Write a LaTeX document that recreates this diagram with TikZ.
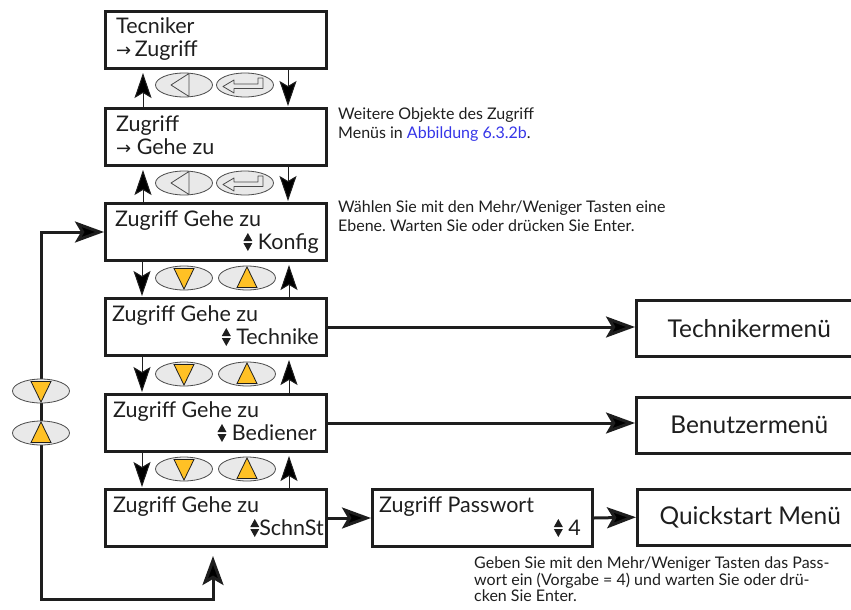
\documentclass[tikz,border=0pt]{standalone}
\usepackage{fontspec}
\setmainfont{Lato}
\newfontfamily\arrowfont{DejaVu Sans}
\usepackage{tikz}
\usetikzlibrary{arrows.meta,positioning,shapes.geometric}
\frenchspacing
\definecolor{inkdk}{HTML}{1E1E1E}
\definecolor{keyfill}{HTML}{E9E9E9}
\definecolor{keyedge}{HTML}{4A4A4A}
\definecolor{keyorange}{HTML}{FFC125}
\definecolor{linkblue}{HTML}{3535E8}
\newcommand{\lcdfont}{\fontsize{21.5}{23}\selectfont}
\newcommand{\menufont}{\fontsize{24.5}{28}\selectfont}
\newcommand{\notefont}{\fontsize{16}{18.5}\selectfont}
\newcommand{\toarr}{{\arrowfont\fontsize{18}{18}\selectfont →}}
\newcommand{\updn}{\tikz[x=1pt,y=1pt,baseline=0pt]{%   % more/less symbol
  \fill[inkdk] (0,8) -- (9,8) -- (4.5,16) -- cycle;
  \fill[inkdk] (0,6) -- (9,6) -- (4.5,-2) -- cycle;}}
\tikzset{
  lcd/.style      = {draw=inkdk, line width=3pt, anchor=north west,
                     minimum width=221pt, minimum height=57pt, inner sep=0pt},
  menubox/.style  = {draw=inkdk, line width=2.5pt, anchor=north west,
                     minimum width=226pt, minimum height=56pt, inner sep=0pt,
                     font=\menufont, text=inkdk},
  lcdtxt/.style   = {anchor=base west, inner sep=0pt, font=\lcdfont, text=inkdk},
  lcdtxtr/.style  = {lcdtxt, anchor=base east},
  note/.style     = {anchor=north west, align=left, inner sep=0pt,
                     font=\notefont, text=inkdk},
  key/.style      = {ellipse, draw=keyedge, fill=keyfill, line width=0.8pt,
                     minimum width=57pt, minimum height=24pt, inner sep=0pt},
  keysym/.style   = {draw=keyedge, line width=0.8pt, line join=round},
  keytri/.style   = {draw=inkdk, fill=keyorange, line width=0.8pt},
  thinarr/.style  = {draw=inkdk, line width=1pt,
                     -{Stealth[length=25pt, width=17pt, inset=5pt]}},
  thickarr/.style = {draw=inkdk, line width=3pt,
                     -{Stealth[length=29pt, width=21pt, inset=6pt]}},
}
\newcommand{\keyback}[1]{%            % #1 = key node
  \draw[keysym] ([shift={(-13,0)}]#1.center) -- ([shift={(5,-11.5)}]#1.center)
    -- ([shift={(5,11.5)}]#1.center) -- cycle;}
\newcommand{\keyenter}[1]{%           % #1 = key node
  \draw[keysym] ([shift={(-22,1.5)}]#1.center) -- ++(11,-6.5) -- ++(0,4)
    -- ++(24,0) -- ++(0,-6) -- ++(5,0) -- ++(0,10.5) -- ++(-29,0)
    -- ++(0,4.5) -- cycle;}
\newcommand{\keydn}[1]{%              % #1 = key node
  \draw[keytri] ([shift={(-10,-9.5)}]#1.center) -- ++(20,0) -- ++(-10,20.5) -- cycle;}
\newcommand{\keyup}[1]{%              % #1 = key node
  \draw[keytri] ([shift={(-10,9.5)}]#1.center) -- ++(20,0) -- ++(-10,-20.5) -- cycle;}

\begin{document}
\begin{tikzpicture}[x=1pt,y=-1pt]
  \useasboundingbox (0,0) rectangle (851,610);

  % display boxes
  \node[lcd] (tec)  at (104,10)  {};
  \node[lcd] (zug)  at (104,107) {};
  \node[lcd] (konf) at (104,202) {};
  \node[lcd] (tech) at (104,297) {};
  \node[lcd] (bed)  at (104,393) {};
  \node[lcd] (schn) at (104,488) {};
  \node[lcd, minimum width=220pt] (pass) at (371,488) {};

  \node[lcdtxt]  (tec1)  at ([shift={(12,24)}]tec.north west)  {Tecniker};
  \node[lcdtxt]  (tec2)  at ([shift={(12,47)}]tec.north west)  {\toarr\,Zugriff};
  \node[lcdtxt]  (zug1)  at ([shift={(12,24)}]zug.north west)  {Zugriff};
  \node[lcdtxt]  (zug2)  at ([shift={(12,47)}]zug.north west)  {\toarr\ Gehe zu};
  \node[lcdtxt]  (konf1) at ([shift={(11,24)}]konf.north west) {Zugriff Gehe zu};
  \node[lcdtxtr] (konf2) at ([shift={(-9,47)}]konf.north east) {\updn\ Konfig};
  \node[lcdtxt]  (tech1) at ([shift={(8,24)}]tech.north west)  {Zugriff Gehe zu};
  \node[lcdtxtr] (tech2) at ([shift={(-9,47)}]tech.north east) {\updn\ Technike};
  \node[lcdtxt]  (bed1)  at ([shift={(9,24)}]bed.north west)   {Zugriff Gehe zu};
  \node[lcdtxtr] (bed2)  at ([shift={(-11,47)}]bed.north east) {\updn\ Bediener};
  \node[lcdtxt]  (schn1) at ([shift={(9,24)}]schn.north west)  {Zugriff Gehe zu};
  \node[lcdtxtr] (schn2) at ([shift={(-4,47)}]schn.north east) {\updn SchnSt};
  \node[lcdtxt]  (pass1) at ([shift={(8,24)}]pass.north west)  {Zugriff Passwort};
  \node[lcdtxtr] (pass2) at ([shift={(-13,47)}]pass.north east) {\updn\ 4};

  % target menus
  \node[menubox] (techm)  at (635,299) {Technikermenü};
  \node[menubox] (benm)   at (635,396) {Benutzermenü};
  \node[menubox] (quick)  at (636,488) {Quickstart Menü};

  % thin arrows between the displays
  \draw[thinarr, shorten >=3pt] ([xshift=39pt]zug.north west)   -- ([xshift=39pt]tec.south west);
  \draw[thinarr, shorten >=1pt] ([xshift=184pt]tec.south west)  -- ([xshift=184pt]zug.north west);
  \draw[thinarr, shorten >=3pt] ([xshift=39pt]konf.north west)  -- ([xshift=39pt]zug.south west);
  \draw[thinarr, shorten >=1pt] ([xshift=184pt]zug.south west)  -- ([xshift=184pt]konf.north west);
  \draw[thinarr, shorten >=1pt] ([xshift=38pt]konf.south west)  -- ([xshift=38pt]tech.north west);
  \draw[thinarr, shorten >=3pt] ([xshift=185pt]tech.north west) -- ([xshift=185pt]konf.south west);
  \draw[thinarr, shorten >=1pt] ([xshift=38pt]tech.south west)  -- ([xshift=38pt]bed.north west);
  \draw[thinarr, shorten >=3pt] ([xshift=185pt]bed.north west)  -- ([xshift=185pt]tech.south west);
  \draw[thinarr, shorten >=1pt] ([xshift=38pt]bed.south west)   -- ([xshift=38pt]schn.north west);
  \draw[thinarr, shorten >=3pt] ([xshift=185pt]schn.north west) -- ([xshift=185pt]bed.south west);

  % keys
  \node[key] (back1)  at (184,85)  {};  \keyback{back1}
  \node[key] (enter1) at (245,85)  {};  \keyenter{enter1}
  \node[key] (back2)  at (184,183) {};  \keyback{back2}
  \node[key] (enter2) at (245,183) {};  \keyenter{enter2}
  \node[key] (dn1) at (184,278) {};  \keydn{dn1}
  \node[key] (up1) at (247,278) {};  \keyup{up1}
  \node[key] (dn2) at (184,374) {};  \keydn{dn2}
  \node[key] (up2) at (247,374) {};  \keyup{up2}
  \node[key] (dn3) at (184,469) {};  \keydn{dn3}
  \node[key] (up3) at (247,469) {};  \keyup{up3}

  % thick arrows to the menus
  \draw[thickarr] (tech.east) -- (tech.east -| techm.west);
  \draw[thickarr] (bed.east)  -- (bed.east -| benm.west);
  \draw[thickarr] (schn.east) -- (pass.west);
  \draw[thickarr] (pass.east) -- (quick.west);

  % wrap-around loop
  \coordinate (loopbl) at (41,599);
  \draw[thickarr, {Stealth[length=29pt, width=21pt, inset=6pt]}-{Stealth[length=29pt, width=21pt, inset=6pt]},
        shorten <=8pt] ([xshift=109pt]schn.south west) |- (loopbl) |- (konf.west);
  \node[key] (dnl) at (41,391) {};  \keydn{dnl}
  \node[key] (upl) at (41,433) {};  \keyup{upl}

  % notes
  \node[note] (noteacc) at (338,108)
    {Weitere Objekte des Zugriff\\Menüs in \textcolor{linkblue}{Abbildung 6.3.2b}.};
  \node[note] (notelvl) at (338,201)
    {Wählen Sie mit den Mehr/Weniger Tasten eine\\Ebene. Warten Sie oder drücken Sie Enter.};
  \node[note, font=\fontsize{16}{16.5}\selectfont] (notepw) at (474,557)
    {Geben Sie mit den Mehr/Weniger Tasten das Pass-\\wort ein (Vorgabe = 4) und warten Sie oder drü-\\cken Sie Enter.};
\end{tikzpicture}
\end{document}
